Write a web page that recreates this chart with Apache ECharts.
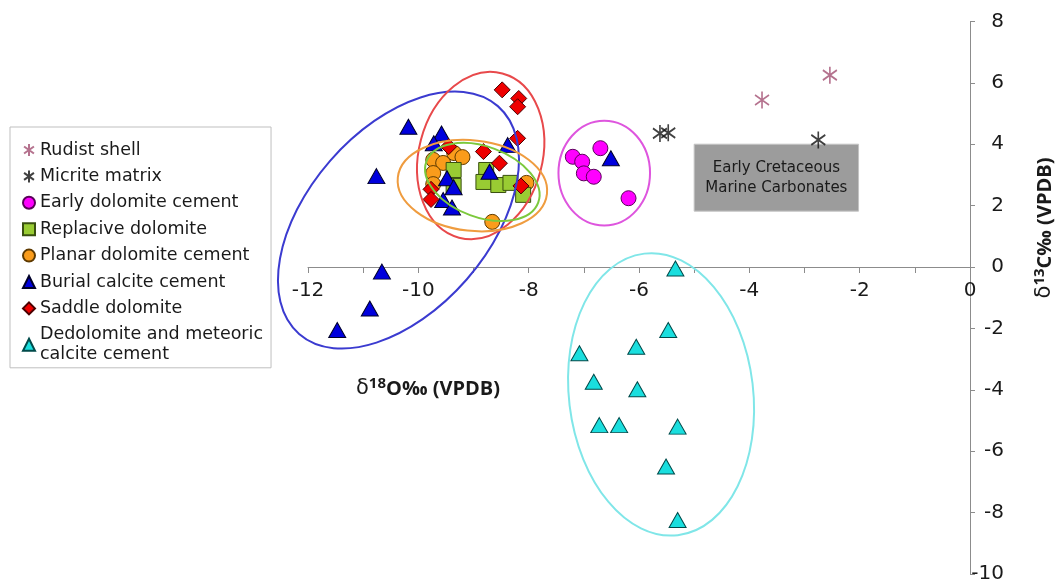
<!DOCTYPE html>
<html>
<head>
<meta charset="utf-8">
<script src="https://cdn.jsdelivr.net/npm/echarts@6.0.0/dist/echarts.min.js"></script>
<style>
  html, body { margin: 0; padding: 0; background: #fff; }
  #chart { width: 1061px; height: 580px; }
</style>
</head>
<body>
<div id="chart"></div>
<script>
// δ18O (x), δ13C (y) pairs
const rudistShell = [[-3.77, 5.44], [-2.54, 6.25]];
const micriteMatrix = [[-5.62, 4.35], [-5.47, 4.37], [-2.75, 4.14]];
const earlyDolomite = [[-7.20, 3.59], [-6.70, 3.87], [-7.03, 3.43], [-7.00, 3.05], [-6.82, 2.94], [-6.19, 2.24]];
const replaciveDolomite = [[-9.36, 3.16], [-9.36, 2.64], [-8.77, 3.16], [-8.82, 2.77], [-8.55, 2.67], [-8.33, 2.74], [-8.10, 2.35]];
const planarDolomite = [[-9.73, 3.49], [-9.55, 3.39], [-9.35, 3.71], [-9.20, 3.58], [-9.73, 3.06], [-9.73, 2.70], [-8.66, 1.47], [-8.04, 2.74]];
const burialCalcite = [[-10.18, 4.57], [-10.76, 2.96], [-10.66, -0.15], [-10.88, -1.35], [-11.47, -2.05],
  [-9.58, 4.35], [-9.72, 4.03], [-8.38, 3.97], [-8.71, 3.10], [-9.48, 2.89], [-9.36, 2.60], [-9.55, 2.18], [-9.39, 1.94], [-6.51, 3.54]];
const saddleDolomite = [[-8.48, 5.77], [-8.18, 5.49], [-8.20, 5.22], [-8.20, 4.19], [-9.45, 3.92], [-8.82, 3.76], [-8.53, 3.38], [-8.14, 2.64], [-9.77, 2.53], [-9.77, 2.20]];
const dedolomite = [[-5.34, -0.05], [-5.47, -2.05], [-6.05, -2.60], [-7.08, -2.81], [-6.82, -3.74], [-6.03, -3.98],
  [-6.72, -5.15], [-6.36, -5.15], [-5.30, -5.20], [-5.51, -6.50], [-5.30, -8.24]];

const legendNames = ['Rudist shell', 'Micrite matrix', 'Early dolomite cement', 'Replacive dolomite',
  'Planar dolomite cement', 'Burial calcite cement', 'Saddle dolomite', 'Dedolomite and meteoric\ncalcite cement'];

// group envelopes: centre x, centre y, semi-axes (in x-axis units), tilt in degrees
const groupEllipses = [
  [-10.36, 1.53, 2.74, 1.64, 48.9],   // burial calcite
  [-8.87, 3.63, 1.54, 1.12, 75.2],    // saddle dolomite
  [-9.02, 2.65, 1.36, 0.82, -6.3],    // planar dolomite
  [-8.84, 2.77, 1.08, 0.64, -20.3],   // replacive dolomite
  [-6.63, 3.06, 0.95, 0.83, 90],      // early dolomite
  [-5.60, -4.15, 2.57, 1.67, 96.8]    // dedolomite
];
const ellipseColors = ['#3b3bd0', '#e8494b', '#ef9c3f', '#7cc93c', '#de55de', '#80e6e8'];

// Early Cretaceous marine carbonates field (corners)
const carbonateBox = [[-5.0, 4.0], [-2.02, 1.82]];

const FONT = 'DejaVu Sans';
const asterisk = 'path://M7,0L7,17M0,3.5L14,13.5M0,13.5L14,3.5';

// axis title pieces: delta, isotope mass, rest
const titleRich = {
  a: { fontFamily: FONT, fontSize: 21, fill: '#1a1a1a' },
  b: { fontFamily: 'Open Sans', fontWeight: 'bold', fontSize: 15, fill: '#1a1a1a', padding: [0, 0, 10, 0] },
  c: { fontFamily: 'Open Sans', fontWeight: 'bold', fontSize: 20, fill: '#1a1a1a' }
};

function pts(name, data, symbol, size, fill, border, extra) {
  return Object.assign({
    name: name,
    type: 'scatter',
    data: data,
    symbol: symbol,
    symbolSize: size,
    itemStyle: { color: fill, borderColor: border, borderWidth: 1, opacity: 1 },
    z: 2
  }, extra || {});
}

let myChart = echarts.init(document.getElementById('chart'));
let option = {
  animation: false,
  grid: { left: 308, right: 91, top: 21.4, bottom: 6, containLabel: false, outerBoundsMode: 'none' },
  legend: {
    orient: 'vertical',
    left: 10,
    top: 127,
    padding: [13, 8, 3, 12],
    itemGap: 6.4,
    itemWidth: 12,
    itemHeight: 12,
    borderColor: '#bfbfbf',
    borderWidth: 1,
    selectedMode: false,
    textStyle: { fontFamily: FONT, fontSize: 17.5, color: '#1a1a1a', lineHeight: 20 },
    data: legendNames
  },
  xAxis: {
    type: 'value',
    position: 'bottom',
    min: -12,
    max: 0,
    interval: 1,
    axisLine: { onZero: false, lineStyle: { color: '#8c8c8c', width: 1 } },
    axisTick: { show: true, length: 6, lineStyle: { color: '#8c8c8c' } },
    axisLabel: {
      margin: 14,
      fontFamily: FONT,
      fontSize: 20,
      color: '#1a1a1a',
      formatter: function (v) { return v % 2 === 0 ? String(v) : ''; }
    },
    splitLine: { show: false }
  },
  yAxis: {
    type: 'value',
    position: 'right',
    min: -10,
    max: 8,
    interval: 2,
    axisLine: { show: true, onZero: false, lineStyle: { color: '#8c8c8c', width: 1 } },
    axisTick: { show: true, length: 5, lineStyle: { color: '#8c8c8c' } },
    axisLabel: { margin: 34, align: 'right', fontFamily: FONT, fontSize: 20, color: '#1a1a1a' },
    splitLine: { show: false }
  },
  graphic: [
    {
      type: 'text',
      x: 428,
      y: 389,
      style: { text: '{a|δ}{b|18}{c|O‰ (VPDB)}', align: 'center', verticalAlign: 'middle', rich: titleRich }
    },
    {
      type: 'text',
      x: 1045,
      y: 228,
      rotation: Math.PI / 2,
      style: { text: '{a|δ}{b|13}{c|C‰ (VPDB)}', align: 'center', verticalAlign: 'middle', rich: titleRich }
    }
  ],
  series: [
    pts(legendNames[0], rudistShell, asterisk, [14, 17], 'rgba(0,0,0,0)', '#a24f72', { itemStyle: { color: 'rgba(0,0,0,0)', borderColor: '#a24f72', borderWidth: 1.8 } }),
    pts(legendNames[1], micriteMatrix, asterisk, [14, 17], 'rgba(0,0,0,0)', '#111', {
      itemStyle: { color: 'rgba(0,0,0,0)', borderColor: '#111111', borderWidth: 1.8 },
      markArea: {
        silent: true,
        itemStyle: { color: '#9c9c9c', borderColor: '#c4c4c4', borderWidth: 1 },
        label: {
          show: true,
          position: 'inside',
          formatter: 'Early Cretaceous\nMarine Carbonates',
          fontFamily: FONT,
          fontSize: 15,
          lineHeight: 20,
          color: '#1a1a1a'
        },
        data: [[{ coord: carbonateBox[0] }, { coord: carbonateBox[1] }]]
      }
    }),
    pts(legendNames[2], earlyDolomite, 'circle', 15, '#ff00ff', '#5a005a'),
    pts(legendNames[4], planarDolomite, 'circle', 15, '#fa9c1b', '#5e3a00'),
    pts(legendNames[3], replaciveDolomite, 'rect', 15, '#99cc33', '#3a5010'),
    pts(legendNames[5], burialCalcite, 'triangle', [17, 15], '#0000dd', '#00002a'),
    pts(legendNames[6], saddleDolomite, 'diamond', 16, '#ee0000', '#4a0000'),
    pts(legendNames[7], dedolomite, 'triangle', [17, 15], '#1adede', '#004a4a'),
    {
      type: 'custom',
      name: 'envelopes',
      silent: true,
      z: 4,
      data: groupEllipses,
      encode: { x: 0, y: 1 },
      renderItem: function (params, api) {
        const c = api.coord([api.value(0), api.value(1)]);
        const unit = api.size([1, 0])[0];
        return {
          type: 'ellipse',
          x: c[0],
          y: c[1],
          rotation: api.value(4) * Math.PI / 180,
          shape: { cx: 0, cy: 0, rx: api.value(2) * unit, ry: api.value(3) * unit },
          style: { fill: 'none', stroke: ellipseColors[params.dataIndex], lineWidth: 2 }
        };
      }
    }
  ]
};
myChart.setOption(option);

// move the δ18O axis (line, ticks and labels) up so it crosses at δ13C = 0
const zeroY = myChart.convertToPixel({ yAxisIndex: 0 }, 0);
const floorY = myChart.convertToPixel({ yAxisIndex: 0 }, -10);
myChart.setOption({ xAxis: { offset: zeroY - floorY } });
</script>
</body>
</html>
